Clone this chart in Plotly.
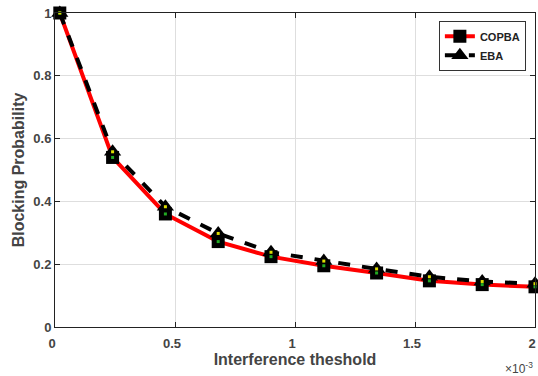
import plotly.graph_objects as go

x_vals = [0.02, 0.24, 0.46, 0.68, 0.90, 1.12, 1.34, 1.56, 1.78, 2.0]
copba = [1.0, 0.54, 0.36, 0.272, 0.224, 0.195, 0.172, 0.147, 0.135, 0.128]
eba = [1.0, 0.558, 0.383, 0.298, 0.238, 0.21, 0.185, 0.16, 0.145, 0.138]
x_ticks = [0, 0.5, 1, 1.5, 2]
x_tick_text = ["0", "0.5", "1", "1.5", "2"]
y_ticks = [0, 0.2, 0.4, 0.6, 0.8, 1]
y_tick_text = ["0", "0.2", "0.4", "0.6", "0.8", "1"]

FONT = "Liberation Sans"
GRAY = "#444444"

fig = go.Figure()
fig.add_trace(go.Scatter(x=x_vals, y=copba, name="COPBA", mode="lines+markers", cliponaxis=False,
                         line=dict(color="#ff0000", width=4),
                         marker=dict(symbol="square", size=13, color="black")))
fig.add_trace(go.Scatter(x=x_vals, y=eba, name="EBA", mode="lines+markers", cliponaxis=False,
                         line=dict(color="black", width=4, dash="dash"),
                         marker=dict(symbol="triangle-up", size=15, color="black")))
fig.add_trace(go.Scatter(x=x_vals, y=copba, mode="markers", showlegend=False, hoverinfo="skip",
                         cliponaxis=False,
                         marker=dict(symbol="square", size=3, color="#22aa22")))
fig.add_trace(go.Scatter(x=x_vals, y=eba, mode="markers", showlegend=False, hoverinfo="skip",
                         cliponaxis=False,
                         marker=dict(symbol="square", size=3, color="#dddd00")))

axis_common = dict(showline=True, linecolor="#222222", linewidth=1, mirror="ticks",
                   ticks="inside", ticklen=5, tickcolor="#222222",
                   showgrid=True, gridcolor="#dedede", gridwidth=1, zeroline=False,
                   automargin=False, ticklabeloverflow="allow",
                   tickfont=dict(family=FONT, size=13, color=GRAY, weight="bold"))

fig.update_layout(
    width=538, height=376,
    margin=dict(l=55, r=3, t=13, b=49),
    plot_bgcolor="white", paper_bgcolor="white",
    xaxis=dict(range=[0, 2], tickvals=x_ticks, ticktext=x_tick_text, ticklabelshift=-3,
               ticklabelstandoff=4,
               title=dict(text="<b>Interference theshold</b>", standoff=3,
                          font=dict(family=FONT, size=16, color=GRAY)),
               **axis_common),
    yaxis=dict(range=[0, 1], tickvals=y_ticks, ticktext=y_tick_text,
               title=dict(text="<b>Blocking Probability</b>", standoff=4,
                          font=dict(family=FONT, size=16, color=GRAY)),
               **axis_common),
    legend=dict(x=0.981, y=0.975, xanchor="right", yanchor="top",
                bgcolor="white", bordercolor="#333333", borderwidth=1,
                font=dict(family=FONT, size=11, color="#222222", weight="bold"),
                itemwidth=30, tracegroupgap=0),
    showlegend=True,
)
fig.add_annotation(x=1, y=0, xref="paper", yref="paper", xanchor="right", yanchor="top",
                   yshift=-31, showarrow=False,
                   text="×10<sup>-3</sup>",
                   font=dict(family=FONT, size=12, color=GRAY))

fig.write_html("out.html", config={"displayModeBar": False},
               post_script="document.body.style.margin='0';document.body.style.overflow='hidden';")
